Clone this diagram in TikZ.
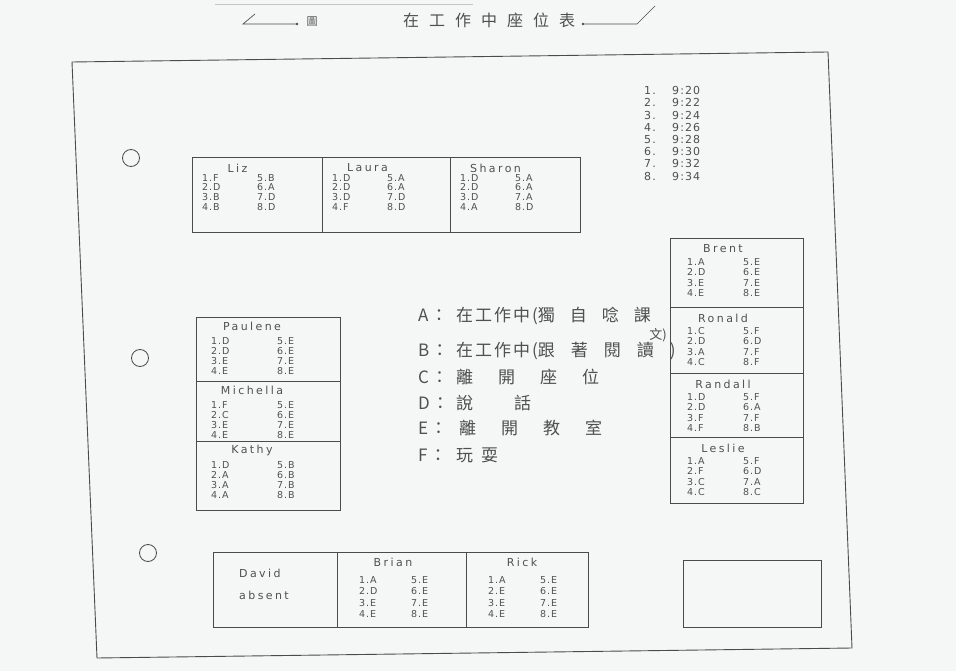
\documentclass[tikz,border=0pt]{standalone}
\usepackage{fontspec}
\usepackage{graphicx}
\setmainfont{DejaVu Sans}
\newfontfamily\hand[LetterSpace=10]{DejaVu Sans}
\newfontfamily\handwide[LetterSpace=22]{DejaVu Sans}
\newfontfamily\cjk{Noto Sans CJK TC}
\definecolor{bg}{RGB}{244,247,245}
\definecolor{ink}{RGB}{75,75,75}
\definecolor{pen}{RGB}{80,80,80}
\makeatletter
\newcommand\spreadchars[2]{\def\sc@gap{#1}\@tfor\sc@ch:=#2\do{\sc@ch\hspace{\sc@gap}}}
\makeatother
\newcommand\lpad{10}
\newcommand\cgap{55}
\newcommand\rstep{9.4}
\newcommand\rtop{17}
\newcommand\ntop{11}
\newcommand\lead[1]{\makebox[38pt][l]{#1\hspace{2pt}：}}
\tikzset{
  seatbox/.style={draw=ink, line width=0.8pt, rectangle, inner sep=0pt},
  seatname/.style={text=pen, font=\handwide\fontsize{11}{12}\selectfont, inner sep=0pt},
  seatrows/.style={text=pen, inner sep=0pt},
  hole/.style={draw=ink, line width=0.8pt, circle, minimum size=17pt, inner sep=0pt},
  legend/.style={text=pen, font=\cjk\fontsize{17}{19}\selectfont, inner sep=0pt, anchor=west},
  pageline/.style={draw=ink, line width=0.9pt},
}
\newcommand\seat[7]{%
  \node[seatbox, minimum width={#4-#2}, minimum height={#5-#3}] (#1) at ({(#2+#4)/2},{(#3+#5)/2}) {};
  \node[seatname] (#1-name) at ({#2+\lpad+(\cgap+16)/2},{#3+\ntop}) {#6};
  \node[seatrows, anchor=north west] (#1-marks) at ({#2+\lpad},{#3+\rtop})
    {\hand\fontsize{9.5}{\rstep}\selectfont\begin{tabular}{@{}p{\cgap pt}@{}l@{}}#7\end{tabular}};
}
\begin{document}
\begin{tikzpicture}[x=1pt,y=-1pt]
\useasboundingbox (0,0) rectangle (956,671);
\fill[bg] (0,0) rectangle (956,671);
% faint edge of previous sheet
\draw[gray!45, line width=0.6pt] (215,4) -- (473,4);
% title
\coordinate (tl1) at (255,14);
\coordinate (tl2) at (243,24);
\coordinate (tl3) at (297,24);
\draw[pageline, line width=0.7pt] (tl1) -- (tl2) -- (tl3);
\fill[ink] (tl3) circle (1.3pt);
\node[text=pen, font=\cjk\fontsize{11}{12}\selectfont, inner sep=0pt] (figlabel) at (312,22) {圖};
\node[text=pen, font=\cjk\fontsize{16}{17}\selectfont, inner sep=0pt, anchor=west] (title) at (403,20) {\spreadchars{10pt}{在工作中座位表}};
\coordinate (tr1) at (583,24);
\coordinate (tr2) at (637,24);
\coordinate (tr3) at (655,6);
\fill[ink] (tr1) circle (1.3pt);
\draw[pageline, line width=0.7pt] (tr1) -- (tr2) -- (tr3);
% page
\draw[pageline] (72,62) -- (828,52) -- (852,648) -- (97,658) -- cycle;
% holes
\node[hole] (hole1) at (131,158) {};
\node[hole] (hole2) at (140,358) {};
\node[hole] (hole3) at (148,553) {};
% times
\node[text=pen, anchor=north west, inner sep=0pt] (times) at (644,86)
  {\hand\fontsize{11}{12.2}\selectfont\begin{tabular}{@{}p{28pt}@{}l@{}}
  1. & 9:20\\ 2. & 9:22\\ 3. & 9:24\\ 4. & 9:26\\ 5. & 9:28\\ 6. & 9:30\\ 7. & 9:32\\ 8. & 9:34
  \end{tabular}};
% top row
\renewcommand\lpad{10}\renewcommand\cgap{55}\renewcommand\rstep{9.4}\renewcommand\rtop{17}\renewcommand\ntop{11}
\seat{liz}{192}{157}{322}{232}{Liz}{1.F & 5.B\\ 2.D & 6.A\\ 3.B & 7.D\\ 4.B & 8.D}
\seat{laura}{322}{157}{450}{232}{Laura}{1.D & 5.A\\ 2.D & 6.A\\ 3.D & 7.D\\ 4.F & 8.D}
\seat{sharon}{450}{157}{580}{232}{Sharon}{1.D & 5.A\\ 2.D & 6.A\\ 3.D & 7.A\\ 4.A & 8.D}
% left column
\renewcommand\lpad{15}\renewcommand\cgap{66}\renewcommand\rstep{9.7}\renewcommand\rtop{20}\renewcommand\ntop{9}
\seat{paulene}{196}{317}{340}{381}{Paulene}{1.D & 5.E\\ 2.D & 6.E\\ 3.E & 7.E\\ 4.E & 8.E}
\seat{michella}{196}{381}{340}{441}{Michella}{1.F & 5.E\\ 2.C & 6.E\\ 3.E & 7.E\\ 4.E & 8.E}
\seat{kathy}{196}{441}{340}{510}{Kathy}{1.D & 5.B\\ 2.A & 6.B\\ 3.A & 7.B\\ 4.A & 8.B}
% right column
\renewcommand\lpad{17}\renewcommand\cgap{56}\renewcommand\rstep{10.3}\renewcommand\rtop{20}\renewcommand\ntop{11}
\seat{brent}{670}{238}{803}{307}{Brent}{1.A & 5.E\\ 2.D & 6.E\\ 3.E & 7.E\\ 4.E & 8.E}
\seat{ronald}{670}{307}{803}{373}{Ronald}{1.C & 5.F\\ 2.D & 6.D\\ 3.A & 7.F\\ 4.C & 8.F}
\seat{randall}{670}{373}{803}{437}{Randall}{1.D & 5.F\\ 2.D & 6.A\\ 3.F & 7.F\\ 4.F & 8.B}
\seat{leslie}{670}{437}{803}{503}{Leslie}{1.A & 5.F\\ 2.F & 6.D\\ 3.C & 7.A\\ 4.C & 8.C}
% bottom row
\node[seatbox, minimum width=124pt, minimum height=75pt] (david) at (275,589.5) {};
\node[seatname, anchor=west] (david-name) at (239,573) {David};
\node[seatname, anchor=west] (david-absent) at (239,595) {absent};
\renewcommand\lpad{22}\renewcommand\cgap{52}\renewcommand\rstep{11.5}\renewcommand\rtop{23}\renewcommand\ntop{10}
\seat{brian}{337}{552}{466}{627}{Brian}{1.A & 5.E\\ 2.D & 6.E\\ 3.E & 7.E\\ 4.E & 8.E}
\seat{rick}{466}{552}{588}{627}{Rick}{1.A & 5.E\\ 2.E & 6.E\\ 3.E & 7.E\\ 4.E & 8.E}
\node[seatbox, minimum width=138pt, minimum height=67pt] (empty) at (752,593.5) {};
% legend
\node[legend] (legA) at (418,316) {\lead{A}\spreadchars{2pt}{在工作中}(\spreadchars{15pt}{獨自唸課}};
\node[legend, anchor=east, font=\cjk\fontsize{13}{14}\selectfont] (legA2) at (667,335) {文)};
\node[legend] (legB) at (418,351) {\lead{B}\spreadchars{2pt}{在工作中}(\spreadchars{16pt}{跟著閱讀})};
\node[legend] (legC) at (418,377) {\lead{C}\spreadchars{25pt}{離開座位}};
\node[legend] (legD) at (418,403) {\lead{D}說\hspace{41pt}話};
\node[legend] (legE) at (418,428) {\lead{E}\hspace{3pt}\spreadchars{25pt}{離開教室}};
\node[legend] (legF) at (418,455) {\lead{F}\spreadchars{8pt}{玩耍}};
\end{tikzpicture}
\end{document}
